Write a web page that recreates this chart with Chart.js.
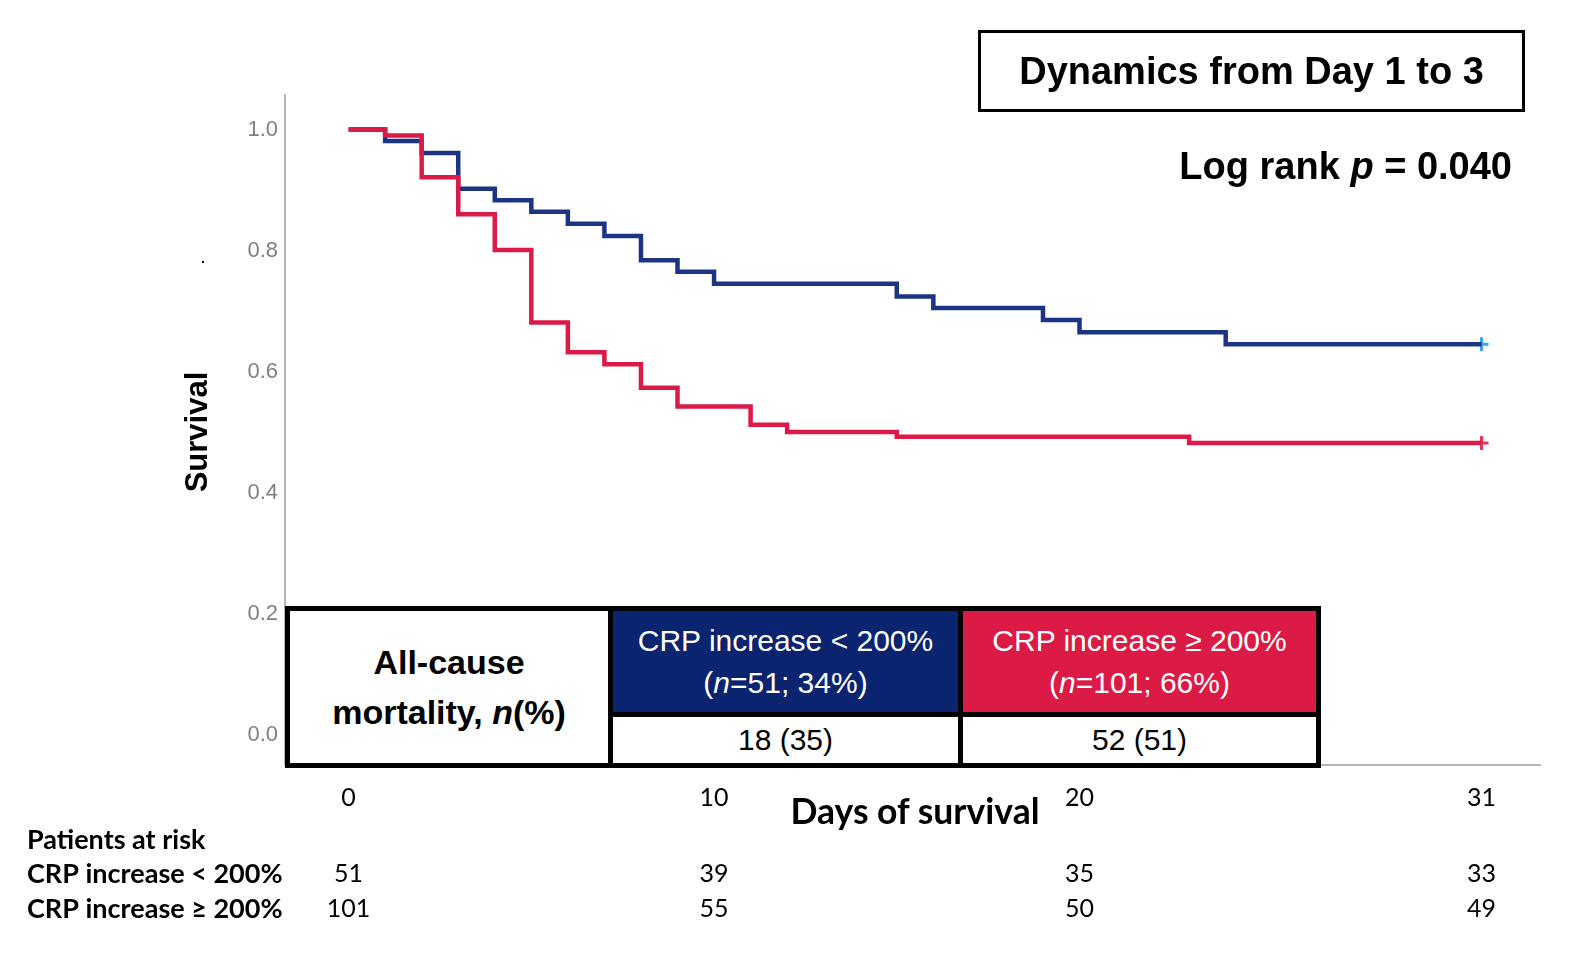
<!DOCTYPE html>
<html>
<head>
<meta charset="utf-8">
<script src="https://cdn.jsdelivr.net/npm/chart.js@4"></script>
<style>
  body { margin: 0; background: #fff; }
  #wrap { position: relative; width: 1584px; height: 953px; overflow: hidden; font-family: "Liberation Sans", Arial, sans-serif; }
  #km { position: absolute; left: 0; top: 0; }
  .abs { position: absolute; white-space: nowrap; }
  .box { position: absolute; box-sizing: border-box; display: flex; align-items: center; justify-content: center; text-align: center; }
  #title { left: 978px; top: 30px; width: 547px; height: 82px; border: 3px solid #000; font-weight: bold; font-size: 38px; }
  #logrank { right: 72px; top: 144px; font-weight: bold; font-size: 38px; line-height: 44px; }
  #ytitle { left: 197px; top: 432px; transform: translate(-50%, -50%) rotate(-90deg); font-weight: bold; font-size: 31px; }
  #xtitle { left: 915px; top: 810px; transform: translate(-50%, -50%); font-family: Lato, sans-serif; font-weight: bold; font-size: 35.5px; }
  #dot { left: 202px; top: 261px; width: 2px; height: 2px; background: #000; }
  #tbl { left: 285px; top: 606px; width: 1036px; height: 162px; border: 5px solid #000; background: #fff; }
  .cell { position: absolute; box-sizing: border-box; display: flex; align-items: center; justify-content: center; text-align: center; font-size: 30px; white-space: nowrap; }
  .hdr { color: #fff; line-height: 42px; }
</style>
</head>
<body>
<div id="wrap">
  <canvas id="km" width="1584" height="953"></canvas>
  <div id="title" class="box">Dynamics from Day 1 to 3</div>
  <div id="logrank" class="abs">Log rank <i>p</i> = 0.040</div>
  <div id="ytitle" class="abs">Survival</div>
  <div id="xtitle" class="abs">Days of survival</div>
  <div id="dot" class="abs"></div>
  <div id="tbl" class="box"></div>
</div>
<script>
// Kaplan-Meier steps: day of event and survival just after it
const lowDays = [0, 1, 2, 3, 4, 5, 6, 7, 8, 9, 10, 15, 16, 19, 20, 24, 31];
const lowSurv = [1.0, 0.981, 0.961, 0.902, 0.883, 0.864, 0.844, 0.824, 0.784, 0.765, 0.745, 0.724, 0.705, 0.685, 0.665, 0.645, 0.645];
const highDays = [0, 1, 2, 3, 4, 5, 6, 7, 8, 9, 11, 12, 15, 23, 31];
const highSurv = [1.0, 0.99, 0.921, 0.860, 0.801, 0.681, 0.632, 0.612, 0.573, 0.542, 0.512, 0.500, 0.492, 0.482, 0.482];

const groups = ['CRP increase < 200%', 'CRP increase \u2265 200%'];
const groupN = [51, 101];
const groupPct = [34, 66];
const mortality = ['18 (35)', '52 (51)'];

const xTicks = [0, 10, 20, 31];
const yTicks = [0, 0.2, 0.4, 0.6, 0.8, 1.0];
const riskLow = [51, 39, 35, 33];
const riskHigh = [101, 55, 50, 49];

const blue = '#1b3584';
const red = '#dc1a48';

// mortality table laid over the lower part of the plot
const tbl = document.getElementById('tbl');
function cell(html, l, t, w, h, bg, cls) {
  const d = document.createElement('div');
  d.className = 'cell ' + (cls || '');
  Object.assign(d.style, { left: l + 'px', top: t + 'px', width: w + 'px', height: h + 'px', background: bg || 'transparent' });
  d.innerHTML = '<div>' + html + '</div>';
  tbl.appendChild(d);
  return d;
}
// left column (merged)
const lead = cell('<b>All-cause<br>mortality, <i>n</i>(%)</b>', 0, 0, 318, 152, '#fff');
lead.style.lineHeight = '50px';
lead.style.fontSize = '34px';
// vertical dividers
cell('', 318, 0, 5, 152, '#000');
cell('', 668, 0, 5, 152, '#000');
// header cells
cell(groups[0] + '<br>(<i>n</i>=' + groupN[0] + '; ' + groupPct[0] + '%)', 323, 0, 345, 101, '#0b2470', 'hdr');
cell(groups[1] + '<br>(<i>n</i>=' + groupN[1] + '; ' + groupPct[1] + '%)', 673, 0, 353, 101, '#dc1a46', 'hdr');
// horizontal divider
cell('', 323, 101, 703, 5, '#000');
// value cells
cell(mortality[0], 323, 106, 345, 46, '#fff');
cell(mortality[1], 673, 106, 353, 46, '#fff');

const riskPlugin = {
  id: 'risk',
  afterDraw(chart) {
    const ctx = chart.ctx;
    const xs = chart.scales.x;
    ctx.save();
    ctx.fillStyle = '#000';
    ctx.textBaseline = 'middle';
    ctx.textAlign = 'left';
    ctx.font = 'bold 27px Lato';
    ctx.fillText('Patients at risk', 27, 840);
    ctx.fillText(groups[0], 27, 874);
    ctx.fillText(groups[1], 27, 909);
    ctx.font = '25px Lato';
    ctx.textAlign = 'center';
    xTicks.forEach((d, i) => {
      const px = xs.getPixelForValue(d);
      ctx.fillText(String(riskLow[i]), px, 874);
      ctx.fillText(String(riskHigh[i]), px, 909);
    });
    ctx.restore();
  }
};

const pts = (d, s) => d.map((x, i) => ({ x: x, y: s[i] }));

new Chart(document.getElementById('km'), {
  type: 'line',
  data: {
    datasets: [
      { label: groups[1], data: pts(highDays, highSurv), stepped: 'before', borderColor: red, borderWidth: 4.5, pointRadius: 0, fill: false },
      { label: groups[0], data: pts(lowDays, lowSurv), stepped: 'before', borderColor: blue, borderWidth: 4.5, pointRadius: 0, fill: false },
      { type: 'scatter', data: [{ x: 31, y: highSurv[highSurv.length - 1] }], pointStyle: 'cross', pointRadius: 7, borderWidth: 3, borderColor: '#e8325a' },
      { type: 'scatter', data: [{ x: 31, y: lowSurv[lowSurv.length - 1] }], pointStyle: 'cross', pointRadius: 7, borderWidth: 3, borderColor: '#3ea2ea' }
    ]
  },
  options: {
    responsive: false,
    animation: false,
    layout: { padding: { top: 95, right: 44, left: 0, bottom: 0 } },
    plugins: { legend: { display: false }, tooltip: { enabled: false } },
    scales: {
      x: {
        type: 'linear',
        min: -1.74,
        max: 32.6,
        grid: { display: false, drawTicks: false },
        border: { color: '#b5b5b5', width: 2 },
        afterBuildTicks: s => { s.ticks = xTicks.map(v => ({ value: v })); },
        afterFit: s => { s.height = 188; },
        ticks: { color: '#000', font: { family: 'Lato', size: 25 }, padding: 18, maxRotation: 0, autoSkip: false }
      },
      y: {
        min: -0.0504,
        max: 1.057,
        grid: { display: false, drawTicks: false },
        border: { color: '#b5b5b5', width: 2 },
        afterBuildTicks: s => { s.ticks = yTicks.map(v => ({ value: v })); },
        afterFit: s => { s.width = 285; },
        ticks: { color: '#808080', font: { family: 'Liberation Sans', size: 22 }, padding: 7, callback: v => v.toFixed(1) }
      }
    }
  },
  plugins: [riskPlugin]
});
</script>
</body>
</html>
